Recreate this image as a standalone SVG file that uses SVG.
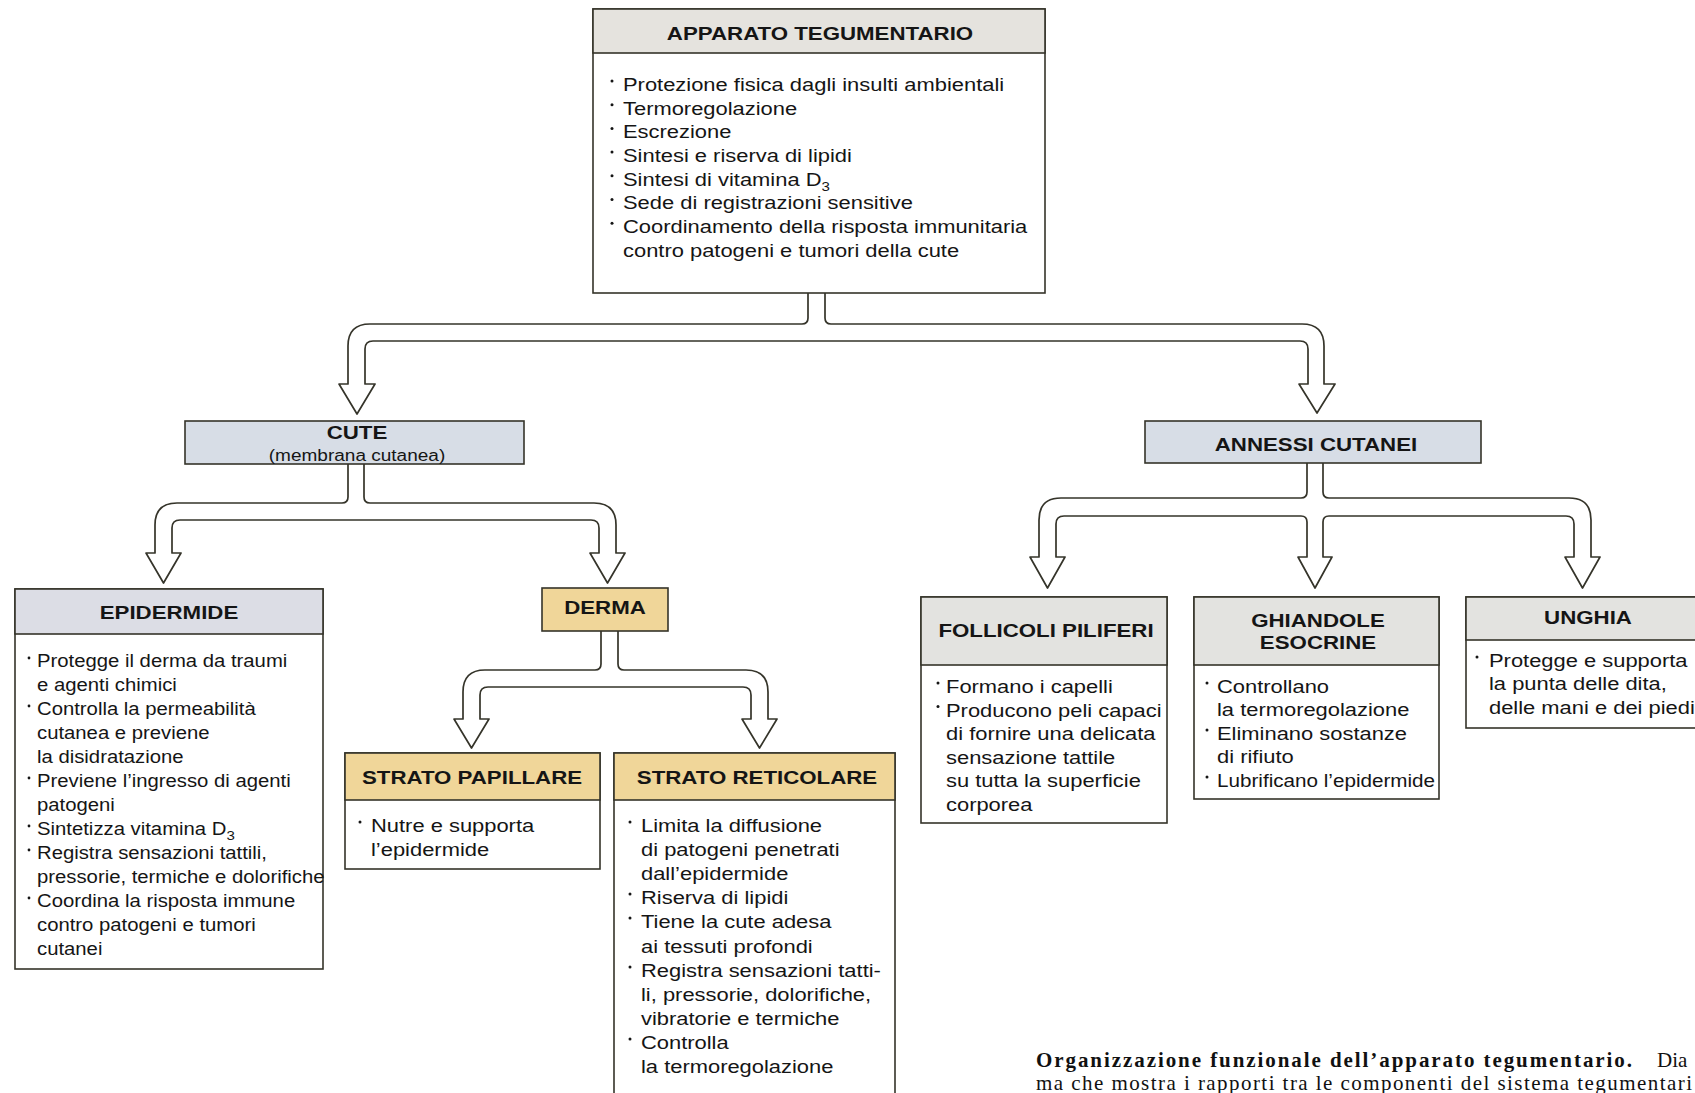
<svg xmlns="http://www.w3.org/2000/svg" width="1695" height="1093" viewBox="0 0 1695 1093">
<style>
  .box{fill:#ffffff;stroke:#35342a;stroke-width:1.6}
  .hd{stroke:#35342a;stroke-width:1.6}
  .gray{fill:#e5e3de}
  .lav{fill:#dcdde5}
  .blue{fill:#d7dde6}
  .tan{fill:#f0d699}
  .lg{fill:#e3e3e0}
  .pipe{fill:#ffffff;stroke:#35342a;stroke-width:1.7;stroke-linejoin:round}
  text{font-family:"Liberation Sans",Arial,Helvetica,sans-serif;fill:#151515}
  .ti{font-weight:bold;font-size:19.2px;text-anchor:middle}
  .b19{font-size:18.9px}
  .b17{font-size:17.5px}
  .sub{font-size:13px}
  .bul{fill:#151515}
  .cap{font-family:"Liberation Serif","Times New Roman",serif;font-size:21px;fill:#111}
</style>
<rect width="1695" height="1093" fill="#ffffff"/>

<g id="connectors">
  <path class="pipe" d="M 808 293 V 318 Q 808 324 802 324 H 370 Q 348 324 348 346 V 384 H 339 L 357 414 L 375 384 H 365 V 349 Q 365 341 373 341 H 1300 Q 1308 341 1308 349 V 384 H 1299 L 1317 413 L 1335 384 H 1324 V 346 Q 1324 324 1302 324 H 831 Q 825 324 825 318 V 293"/>
  <path class="pipe" d="M 348 464 V 497 Q 348 503 342 503 H 177 Q 155 503 155 525 V 553 H 146 L 163.5 583 L 181 553 H 172 V 528 Q 172 520 180 520 H 591 Q 599 520 599 528 V 553 H 590 L 607.5 583 L 625 553 H 616 V 525 Q 616 503 594 503 H 370 Q 364 503 364 497 V 464"/>
  <path class="pipe" d="M 601 631 V 664 Q 601 670 595 670 H 485 Q 463 670 463 692 V 719 H 454 L 471.5 748 L 489 719 H 480 V 695 Q 480 687 488 687 H 743 Q 751 687 751 695 V 719 H 742 L 759.5 748 L 777 719 H 768 V 692 Q 768 670 746 670 H 624 Q 618 670 618 664 V 631"/>
  <path class="pipe" d="M 1307 463 V 492 Q 1307 498 1301 498 H 1061 Q 1039 498 1039 520 V 557 H 1030 L 1047.5 588 L 1065 557 H 1056 V 524 Q 1056 516 1064 516 H 1301 Q 1307 516 1307 522 V 557 H 1298 L 1315 588 L 1332 557 H 1323 V 522 Q 1323 516 1329 516 H 1566 Q 1574 516 1574 524 V 557 H 1565 L 1582.5 588 L 1600 557 H 1591 V 520 Q 1591 498 1569 498 H 1329 Q 1323 498 1323 492 V 463"/>
</g>

<g id="apparato">
  <rect class="box" x="593" y="9" width="452" height="284"/>
  <rect class="gray hd" x="593" y="9" width="452" height="44"/>
  <g transform="translate(820,0) scale(1.16,1)"><text class="ti" x="0" y="40">APPARATO TEGUMENTARIO</text></g>
  <g class="bul">
    <circle cx="612" cy="81" r="1.5"/><circle cx="612" cy="104.7" r="1.5"/><circle cx="612" cy="128.4" r="1.5"/><circle cx="612" cy="152.1" r="1.5"/><circle cx="612" cy="175.8" r="1.5"/><circle cx="612" cy="199.5" r="1.5"/><circle cx="612" cy="223.2" r="1.5"/>
  </g>
  <g class="b19" transform="translate(623,0) scale(1.16,1)">
    <text y="91">Protezione fisica dagli insulti ambientali</text>
    <text y="114.7">Termoregolazione</text>
    <text y="138.4">Escrezione</text>
    <text y="162.1">Sintesi e riserva di lipidi</text>
    <text y="185.8">Sintesi di vitamina D<tspan class="sub" dy="5">3</tspan></text>
    <text y="209.5">Sede di registrazioni sensitive</text>
    <text y="233.2">Coordinamento della risposta immunitaria</text>
    <text y="256.9">contro patogeni e tumori della cute</text>
  </g>
</g>

<g id="cute">
  <rect class="blue hd" x="185" y="421" width="339" height="43"/>
  <g transform="translate(357,0) scale(1.16,1)">
    <text class="ti" x="0" y="439">CUTE</text>
    <text x="0" y="461" style="font-size:16.4px;text-anchor:middle">(membrana cutanea)</text>
  </g>
</g>

<g id="annessi">
  <rect class="blue hd" x="1145" y="421" width="336" height="42"/>
  <g transform="translate(1316,0) scale(1.16,1)"><text class="ti" x="0" y="451">ANNESSI CUTANEI</text></g>
</g>

<g id="epidermide">
  <rect class="box" x="15" y="589" width="308" height="380"/>
  <rect class="lav hd" x="15" y="589" width="308" height="45"/>
  <g transform="translate(169,0) scale(1.16,1)"><text class="ti" x="0" y="619">EPIDERMIDE</text></g>
  <g class="bul">
    <circle cx="29" cy="658" r="1.4"/><circle cx="29" cy="706" r="1.4"/><circle cx="29" cy="778" r="1.4"/><circle cx="29" cy="826" r="1.4"/><circle cx="29" cy="850" r="1.4"/><circle cx="29" cy="898" r="1.4"/>
  </g>
  <g class="b17" transform="translate(37,0) scale(1.16,1)">
    <text y="667">Protegge il derma da traumi</text>
    <text y="691">e agenti chimici</text>
    <text y="715">Controlla la permeabilità</text>
    <text y="739">cutanea e previene</text>
    <text y="763">la disidratazione</text>
    <text y="787">Previene l’ingresso di agenti</text>
    <text y="811">patogeni</text>
    <text y="835">Sintetizza vitamina D<tspan class="sub" dy="5">3</tspan></text>
    <text y="859">Registra sensazioni tattili,</text>
    <text y="883">pressorie, termiche e dolorifiche</text>
    <text y="907">Coordina la risposta immune</text>
    <text y="931">contro patogeni e tumori</text>
    <text y="955">cutanei</text>
  </g>
</g>

<g id="derma">
  <rect class="tan hd" x="542" y="588" width="126" height="43"/>
  <g transform="translate(605,0) scale(1.16,1)"><text class="ti" x="0" y="614">DERMA</text></g>
</g>

<g id="papillare">
  <rect class="box" x="345" y="753" width="255" height="116"/>
  <rect class="tan hd" x="345" y="753" width="255" height="47"/>
  <g transform="translate(472,0) scale(1.16,1)"><text class="ti" x="0" y="784">STRATO PAPILLARE</text></g>
  <circle class="bul" cx="360" cy="822" r="1.5"/>
  <g class="b19" transform="translate(371,0) scale(1.16,1)">
    <text y="832">Nutre e supporta</text>
    <text y="856">l’epidermide</text>
  </g>
</g>

<g id="reticolare">
  <path class="box" d="M 614 1100 V 753 H 895 V 1100"/>
  <rect class="tan hd" x="614" y="753" width="281" height="47"/>
  <g transform="translate(757,0) scale(1.16,1)"><text class="ti" x="0" y="784">STRATO RETICOLARE</text></g>
  <g class="bul">
    <circle cx="630" cy="822" r="1.5"/><circle cx="630" cy="894" r="1.5"/><circle cx="630" cy="918" r="1.5"/><circle cx="630" cy="967" r="1.5"/><circle cx="630" cy="1039" r="1.5"/>
  </g>
  <g class="b19" transform="translate(641,0) scale(1.16,1)">
    <text y="832">Limita la diffusione</text>
    <text y="856">di patogeni penetrati</text>
    <text y="880">dall’epidermide</text>
    <text y="904">Riserva di lipidi</text>
    <text y="928">Tiene la cute adesa</text>
    <text y="953">ai tessuti profondi</text>
    <text y="977">Registra sensazioni tatti-</text>
    <text y="1001">li, pressorie, dolorifiche,</text>
    <text y="1025">vibratorie e termiche</text>
    <text y="1049">Controlla</text>
    <text y="1073">la termoregolazione</text>
  </g>
</g>

<g id="follicoli">
  <rect class="box" x="921" y="597" width="246" height="226"/>
  <rect class="lg hd" x="921" y="597" width="246" height="68"/>
  <g transform="translate(1046,0) scale(1.16,1)"><text class="ti" x="0" y="637">FOLLICOLI PILIFERI</text></g>
  <g class="bul"><circle cx="938" cy="683" r="1.5"/><circle cx="938" cy="706.6" r="1.5"/></g>
  <g class="b19" transform="translate(946,0) scale(1.16,1)">
    <text y="693">Formano i capelli</text>
    <text y="716.6">Producono peli capaci</text>
    <text y="740.2">di fornire una delicata</text>
    <text y="763.8">sensazione tattile</text>
    <text y="787.4">su tutta la superficie</text>
    <text y="811">corporea</text>
  </g>
</g>

<g id="ghiandole">
  <rect class="box" x="1194" y="597" width="245" height="202"/>
  <rect class="lg hd" x="1194" y="597" width="245" height="68"/>
  <g transform="translate(1318,0) scale(1.16,1)">
    <text class="ti" x="0" y="627">GHIANDOLE</text>
    <text class="ti" x="0" y="649">ESOCRINE</text>
  </g>
  <g class="bul"><circle cx="1207" cy="683" r="1.5"/><circle cx="1207" cy="730" r="1.5"/><circle cx="1207" cy="777" r="1.5"/></g>
  <g class="b19" transform="translate(1217,0) scale(1.16,1)">
    <text y="693">Controllano</text>
    <text y="716.5">la termoregolazione</text>
    <text y="740">Eliminano sostanze</text>
    <text y="763.5">di rifiuto</text>
    <text y="787" textLength="188" lengthAdjust="spacingAndGlyphs">Lubrificano l’epidermide</text>
  </g>
</g>

<g id="unghia">
  <rect class="box" x="1466" y="597" width="240" height="131"/>
  <rect class="lg hd" x="1466" y="597" width="240" height="43"/>
  <g transform="translate(1588,0) scale(1.16,1)"><text class="ti" x="0" y="624">UNGHIA</text></g>
  <circle class="bul" cx="1477" cy="657" r="1.5"/>
  <g class="b19" transform="translate(1489,0) scale(1.16,1)">
    <text y="667">Protegge e supporta</text>
    <text y="690.5">la punta delle dita,</text>
    <text y="714">delle mani e dei piedi</text>
  </g>
</g>

<g id="caption">
  <text class="cap" x="1036" y="1067" font-weight="bold" textLength="596" lengthAdjust="spacing">Organizzazione funzionale dell’apparato tegumentario.</text>
  <text class="cap" x="1657" y="1067">Dia</text>
  <text class="cap" x="1036" y="1090" textLength="656" lengthAdjust="spacing">ma che mostra i rapporti tra le componenti del sistema tegumentari</text>
</g>
</svg>
